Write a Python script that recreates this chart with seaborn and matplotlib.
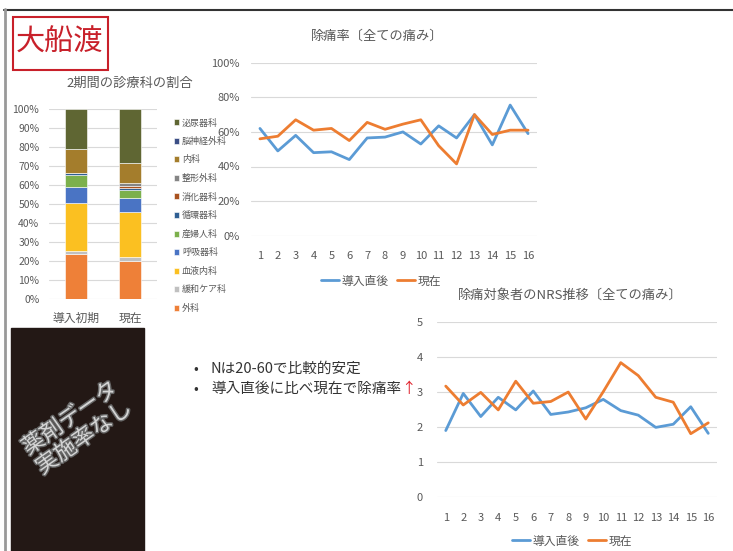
import pandas as pd
import seaborn as sns
import matplotlib.pyplot as plt
import matplotlib.patheffects as pe
from matplotlib.patches import Rectangle
from matplotlib.ticker import PercentFormatter

# data
depts = ['外科', '緩和ケア科', '血液内科', '呼吸器科', '産婦人科', '循環器科',
         '消化器科', '整形外科', '内科', '脳神経外科', '泌尿器科']
dept_colors = ['#ee8038', '#c0c0c0', '#fbc021', '#4a74c4', '#7cb04c', '#2f5f93',
               '#a9521f', '#858585', '#a47d2c', '#3b4e85', '#5f6633']
periods = ['導入初期', '現在']
share_initial = [23.9, 1.6, 25.1, 8.5, 6.3, 0.9, 0.0, 0.3, 12.3, 0.0, 21.1]
share_current = [20.0, 2.0, 23.9, 7.4, 4.3, 1.1, 0.7, 1.6, 10.5, 0.3, 28.2]

points = list(range(1, 17))
relief_start = [62, 49, 58, 48, 48.5, 44, 56.5, 57, 60, 53, 63.5, 56.5, 70, 52.5, 75.5, 59]
relief_now = [56, 57.5, 67, 61, 62, 55, 65.5, 61.5, 64.5, 67, 52, 41.5, 70, 58.5, 61, 61]

nrs_start = [1.89, 2.95, 2.29, 2.84, 2.48, 3.02, 2.35, 2.42, 2.54, 2.78, 2.46, 2.33, 1.98, 2.07, 2.57, 1.81]
nrs_now = [3.16, 2.62, 2.98, 2.48, 3.30, 2.67, 2.72, 2.99, 2.22, 3.00, 3.83, 3.46, 2.84, 2.70, 1.80, 2.11]

series = ['導入直後', '現在']
line_colors = {'導入直後': '#5b9bd5', '現在': '#ed7d31'}

sns.set_theme(style='white')
plt.rcParams['font.family'] = ['Noto Sans CJK JP', 'DejaVu Sans']
TXT = '#595959'
GRID = '#d9d9d9'

W, H = 733, 551
fig = plt.figure(figsize=(W / 100, H / 100), dpi=100)


def px_axes(x0, y0, x1, y1):
    return fig.add_axes([x0 / W, 1 - y1 / H, (x1 - x0) / W, (y1 - y0) / H])


def fx(x):
    return x / W


def fy(y):
    return 1 - y / H


# overlay in pixel coords for slide decorations
ax0 = fig.add_axes([0, 0, 1, 1])
ax0.set_xlim(0, W)
ax0.set_ylim(H, 0)
ax0.axis('off')
ax0.plot([4, W], [9.5, 9.5], color='#333333', lw=1.5)
ax0.plot([4.5, 4.5], [9, H], color='#999999', lw=2)
ax0.add_patch(Rectangle((12.5, 17), 95, 53, fill=False, ec='#c8202a', lw=1.5))
ax0.text(59, 43, '大船渡', color='#c8202a', fontsize=21, ha='center', va='center')
ax0.add_patch(Rectangle((11, 327.5), 133, 230, color='#231815'))
ax0.text(77, 428, '薬剤データ\n実施率なし', rotation=35, rotation_mode='anchor',
         ha='center', va='center', multialignment='center', fontsize=16,
         color='#d4d4d4', linespacing=1.05,
         path_effects=[pe.withStroke(linewidth=2, foreground='#666666')])
ax0.text(196, 369, '•', fontsize=10, color='#333333', va='center', ha='center')
ax0.text(196, 389, '•', fontsize=10, color='#333333', va='center', ha='center')
ax0.text(211, 369, 'Nは20-60で比較的安定', fontsize=10.5, color='#333333', va='center')
t2 = ax0.text(211, 389, '導入直後に比べ現在で除痛率', fontsize=10.5, color='#333333', va='center')
ax0.annotate('↑', xy=(1, 0.5), xycoords=t2, va='center', ha='left',
             fontsize=10.5, color='#e0202a')

# stacked bar chart
ax1 = px_axes(49, 109.3, 157, 299)
bottom = [0.0, 0.0]
for name, col, a, b in zip(depts, dept_colors, share_initial, share_current):
    ax1.bar(periods, [a, b], bottom=bottom, width=0.4, color=col, label=name,
            edgecolor='white', linewidth=0.4)
    bottom = [bottom[0] + a, bottom[1] + b]
ax1.set_xlim(-0.5, 1.5)
ax1.set_ylim(0, 100)
ax1.set_yticks(range(0, 101, 10))
ax1.yaxis.set_major_formatter(PercentFormatter(100, decimals=0))
ax1.grid(axis='y', color=GRID, lw=0.8)
ax1.set_axisbelow(True)
sns.despine(ax=ax1, left=True, bottom=True)
ax1.tick_params(axis='y', length=0, pad=7, labelsize=7.5, labelcolor=TXT)
ax1.tick_params(axis='x', length=0, pad=9, labelsize=8.5, labelcolor=TXT)
h, l = ax1.get_legend_handles_labels()
ax1.legend(h[::-1], l[::-1], loc='upper left', bbox_to_anchor=(fx(169), fy(114)),
           bbox_transform=fig.transFigure, frameon=False, fontsize=6.5,
           labelcolor=TXT, handlelength=0.65, handleheight=0.65,
           handletextpad=0.3, labelspacing=1.05, borderpad=0)
fig.text(fx(130), fy(83), '2期間の診療科の割合', ha='center', va='center',
         fontsize=9.5, color=TXT)

# relief rate line chart
df1 = pd.DataFrame({'point': points * 2,
                    'value': [v / 100 for v in relief_start + relief_now],
                    'series': [series[0]] * 16 + [series[1]] * 16})
ax2 = px_axes(251, 62.7, 537, 235.7)
sns.lineplot(data=df1, x='point', y='value', hue='series', hue_order=series,
             palette=line_colors, linewidth=2, ax=ax2)
ax2.set_xlim(0.5, 16.5)
ax2.set_ylim(0, 1)
ax2.set_xticks(points)
ax2.set_yticks([0, 0.2, 0.4, 0.6, 0.8, 1.0])
ax2.yaxis.set_major_formatter(PercentFormatter(1.0, decimals=0))
ax2.grid(axis='y', color=GRID, lw=0.8)
ax2.set_xlabel('')
ax2.set_ylabel('')
sns.despine(ax=ax2, left=True, bottom=True)
ax2.tick_params(length=0, labelsize=8, labelcolor=TXT)
ax2.tick_params(axis='y', pad=8)
ax2.tick_params(axis='x', pad=11)
ax2.legend(loc='center', bbox_to_anchor=(fx(381), fy(281)),
           bbox_transform=fig.transFigure, ncol=2, frameon=False, fontsize=8.5,
           labelcolor=TXT, handlelength=1.5, handletextpad=0.2, columnspacing=0.8)
fig.text(fx(377), fy(36), '除痛率〔全ての痛み〕', ha='center', va='center',
         fontsize=9.5, color=TXT)

# NRS line chart
df2 = pd.DataFrame({'point': points * 2,
                    'value': nrs_start + nrs_now,
                    'series': [series[0]] * 16 + [series[1]] * 16})
ax3 = px_axes(437, 321.7, 717, 496.7)
sns.lineplot(data=df2, x='point', y='value', hue='series', hue_order=series,
             palette=line_colors, linewidth=2, ax=ax3)
ax3.set_xlim(0.5, 16.5)
ax3.set_ylim(0, 5)
ax3.set_xticks(points)
ax3.set_yticks(range(0, 6))
ax3.grid(axis='y', color=GRID, lw=0.8)
ax3.set_xlabel('')
ax3.set_ylabel('')
sns.despine(ax=ax3, left=True, bottom=True)
ax3.tick_params(length=0, labelsize=8, labelcolor=TXT)
ax3.tick_params(axis='y', pad=10)
ax3.tick_params(axis='x', pad=12)
ax3.legend(loc='center', bbox_to_anchor=(fx(572), fy(541)),
           bbox_transform=fig.transFigure, ncol=2, frameon=False, fontsize=8.5,
           labelcolor=TXT, handlelength=1.5, handletextpad=0.2, columnspacing=0.8)
fig.text(fx(570), fy(295), '除痛対象者のNRS推移〔全ての痛み〕', ha='center', va='center',
         fontsize=9.5, color=TXT)

fig.savefig('out.png', dpi=100)
